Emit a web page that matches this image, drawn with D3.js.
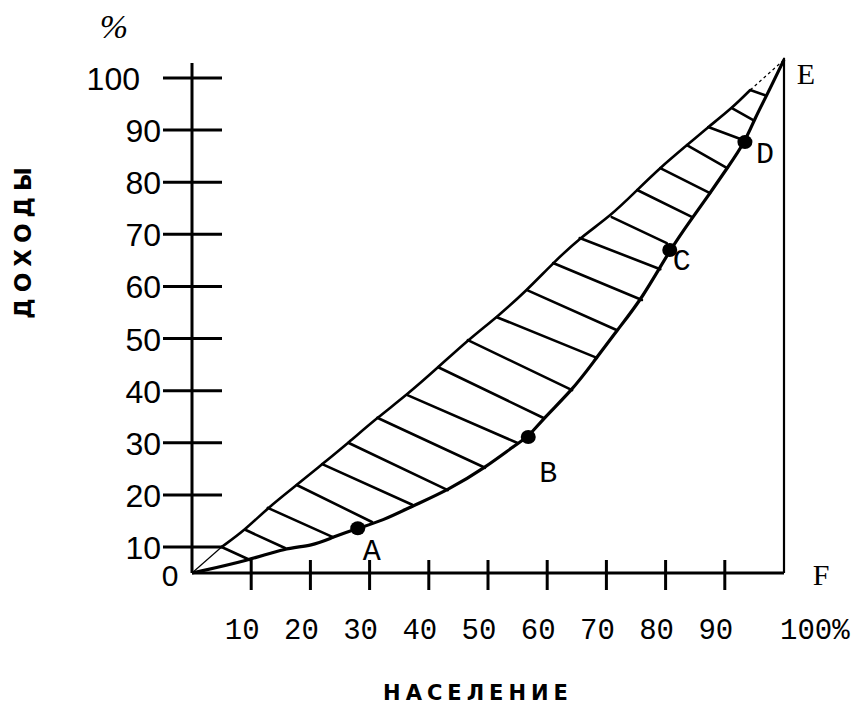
<!DOCTYPE html>
<html><head><meta charset="utf-8">
<script src="https://cdn.jsdelivr.net/npm/d3@7/dist/d3.min.js"></script>
<style>body{margin:0;background:#fff}</style>
</head><body>
<svg id="c" width="857" height="716"></svg>
<script>
// ---- data ----
const xTicks = [10, 20, 30, 40, 50, 60, 70, 80, 90];
const xTickLabels = ["10", "20", "30", "40", "50", "60", "70", "80", "90", "100%"];
const xLabelValues = [10, 20, 30, 40, 50, 60, 70, 80, 90, 100];
const yTicks = [10, 20, 30, 40, 50, 60, 70, 80, 90, 100];
const yTickLabels = ["10", "20", "30", "40", "50", "60", "70", "80", "90", "100"];

// upper (equality-side) curve
const upperX = [0, 5, 9, 12.8, 17.7, 22, 26.4, 31.3, 36.3, 41.6, 46.6, 51.6, 56.6, 61, 65.5, 70.8, 75.2, 79, 83.6, 87.2, 91.2, 94.3, 100];
const upperY = [0, 10, 13.3, 17.5, 21.9, 25.9, 30, 34.8, 39.2, 44.5, 49.7, 54.2, 59.3, 64.5, 69.3, 73.6, 78.5, 82.7, 87.1, 90.6, 94.2, 97.7, 103.5];

// lower (Lorenz) curve
const lowerX = [0, 9.8, 15.7, 20.3, 23.8, 28, 32.1, 37.3, 43.2, 49.5, 55.1, 56.8, 59.3, 64.2, 67.7, 71.8, 76, 80.7, 84.6, 87.5, 90.4, 93.4, 95.1, 97.1, 100];
const lowerY = [0, 5, 9.6, 10.2, 11.9, 13.6, 15, 17.9, 20.9, 25.2, 30, 31.1, 34.6, 40.1, 45.3, 51.6, 57.6, 67, 73.3, 77.9, 82.7, 87.7, 92.3, 96.7, 103.5];

// marked points
const pointNames = ["A", "B", "C", "D"];
const pointX = [28, 56.8, 80.7, 93.4];
const pointY = [13.6, 31.1, 67, 87.7];

// hatch strokes between the curves
const hatchX1 = [5, 9, 12.8, 17.7, 22, 26.4, 31.3, 36.3, 41.6, 46.6, 51.5, 56.6, 61, 65.5, 70.9, 75.2, 79.1, 83.6, 87.2, 91.2, 94.3];
const hatchY1 = [10, 13.3, 17.5, 21.9, 25.9, 30, 34.8, 39.2, 44.5, 49.7, 54.1, 59.3, 64.5, 69.3, 73.3, 78.5, 82.7, 87.1, 90.6, 94.2, 97.7];
const hatchX2 = [9.8, 15.7, 23.8, 30.4, 37.2, 43.2, 49.5, 54.9, 59.3, 64.2, 68.4, 71.8, 76, 79.1, 80.2, 84.5, 87.5, 90.4, 93.1, 94.8, 96.8];
const hatchY2 = [5, 9.6, 11.9, 14.8, 18.1, 20.9, 25.2, 30, 34.8, 40.1, 46.3, 51.6, 57.4, 63.3, 68.3, 73.3, 77.9, 82.7, 88.1, 91.9, 96.7];

const cornerLabels = ["E", "F"];
const cornerX = [100, 100];
const cornerY = [103.5, 0];

// ---- drawing ----
const svg = d3.select("#c");
const x = d3.scaleLinear().domain([0, 100]).range([192, 784]);
const y = d3.scaleLinear().domain([0, 10, 100]).range([573, 547, 78]);

const ink = "#000";
const g = svg.append("g");

// hatch
g.selectAll("line.hatch").data(hatchX1.map((v, i) => i)).join("line")
  .attr("x1", i => x(hatchX1[i])).attr("y1", i => y(hatchY1[i]))
  .attr("x2", i => x(hatchX2[i])).attr("y2", i => y(hatchY2[i]))
  .attr("stroke", ink).attr("stroke-width", 2.6).attr("stroke-linecap", "round");

// curves
const line = d3.line().x(d => x(d[0])).y(d => y(d[1])).curve(d3.curveBasis);
const upper = upperX.map((v, i) => [v, upperY[i]]);
const lower = lowerX.map((v, i) => [v, lowerY[i]]);

g.append("path").attr("d", d3.line().x(d => x(d[0])).y(d => y(d[1]))(upper.slice(0, 2))).attr("fill", "none")
  .attr("stroke", ink).attr("stroke-width", 1.2);
g.append("path").attr("d", line(upper.slice(1, upper.length - 1))).attr("fill", "none")
  .attr("stroke", ink).attr("stroke-width", 2.6).attr("stroke-linejoin", "round");
g.append("path").attr("d", d3.line().x(d => x(d[0])).y(d => y(d[1]))(upper.slice(upper.length - 2))).attr("fill", "none")
  .attr("stroke", ink).attr("stroke-width", 1.2).attr("stroke-dasharray", "3,3");
g.append("path").attr("d", line(lower)).attr("fill", "none")
  .attr("stroke", ink).attr("stroke-width", 3.2).attr("stroke-linejoin", "round");

// axes
g.append("line").attr("x1", x(0)).attr("x2", x(0)).attr("y1", 63).attr("y2", y(0))
  .attr("stroke", ink).attr("stroke-width", 3);
g.append("line").attr("x1", x(0)).attr("x2", x(100)).attr("y1", y(0)).attr("y2", y(0))
  .attr("stroke", ink).attr("stroke-width", 3.2);
g.append("line").attr("x1", x(100)).attr("x2", x(100)).attr("y1", y(0)).attr("y2", y(103.5) - 2)
  .attr("stroke", ink).attr("stroke-width", 2.2);

// y ticks
g.selectAll("line.yt").data(yTicks).join("line")
  .attr("x1", x(0) - 29).attr("x2", x(0) + 30)
  .attr("y1", d => y(d)).attr("y2", d => y(d))
  .attr("stroke", ink).attr("stroke-width", 3);
g.selectAll("text.yl").data(yTicks).join("text")
  .attr("x", d => d === 100 ? 140 : 161).attr("y", d => y(d) + 12)
  .attr("text-anchor", "end").attr("font-family", "Liberation Sans, Arial, sans-serif")
  .attr("font-size", 32).attr("fill", ink)
  .text((d, i) => yTickLabels[i]);
svg.append("text").attr("x", 170).attr("y", 586).attr("text-anchor", "middle")
  .attr("font-family", "Liberation Sans, Arial, sans-serif").attr("font-size", 30).text("0");
svg.append("text").attr("x", 114).attr("y", 38).attr("text-anchor", "middle")
  .attr("font-family", "Liberation Serif, serif").attr("font-style", "italic")
  .attr("font-size", 34).text("%");

// x ticks
g.selectAll("line.xt").data(xTicks).join("line")
  .attr("x1", d => x(d)).attr("x2", d => x(d))
  .attr("y1", y(0) - 13).attr("y2", y(0) + 17)
  .attr("stroke", ink).attr("stroke-width", 3);
g.selectAll("text.xl").data(xLabelValues).join("text")
  .attr("x", d => d === 100 ? x(d) - 4 : x(d) - 9).attr("y", 639)
  .attr("text-anchor", d => d === 100 ? "start" : "middle")
  .attr("font-family", "Liberation Mono, Courier New, monospace")
  .attr("font-size", 29).attr("fill", ink)
  .text((d, i) => xTickLabels[i]);

// points
g.selectAll("ellipse.pt").data(pointNames).join("ellipse")
  .attr("cx", (d, i) => x(pointX[i])).attr("cy", (d, i) => y(pointY[i]))
  .attr("rx", 7.5).attr("ry", 7).attr("fill", ink);
const pointDx = [14, 20, 12, 20];
const pointDy = [32, 45, 20, 21];
g.selectAll("text.pl").data(pointNames).join("text")
  .attr("x", (d, i) => x(pointX[i]) + pointDx[i]).attr("y", (d, i) => y(pointY[i]) + pointDy[i])
  .attr("text-anchor", "middle").attr("font-family", "Liberation Mono, Courier New, monospace")
  .attr("font-size", 30).text(d => d);
g.selectAll("text.cl").data(cornerLabels).join("text")
  .attr("x", (d, i) => x(cornerX[i]) + (i === 0 ? 22 : 37))
  .attr("y", (d, i) => y(cornerY[i]) + (i === 0 ? 24 : 12))
  .attr("text-anchor", "middle").attr("font-family", "Liberation Serif, serif")
  .attr("font-size", 30).text(d => d);

// axis titles
svg.append("text").attr("x", 478).attr("y", 700).attr("text-anchor", "middle")
  .attr("font-family", "DejaVu Sans, sans-serif").attr("font-weight", "bold")
  .attr("font-size", 21).attr("letter-spacing", 5).text("НАСЕЛЕНИЕ");
svg.append("text").attr("transform", "translate(31,240) rotate(-90)")
  .attr("text-anchor", "middle")
  .attr("font-family", "DejaVu Sans, sans-serif").attr("font-weight", "bold")
  .attr("font-size", 23).attr("letter-spacing", 6).text("ДОХОДЫ");
</script>
</body></html>
